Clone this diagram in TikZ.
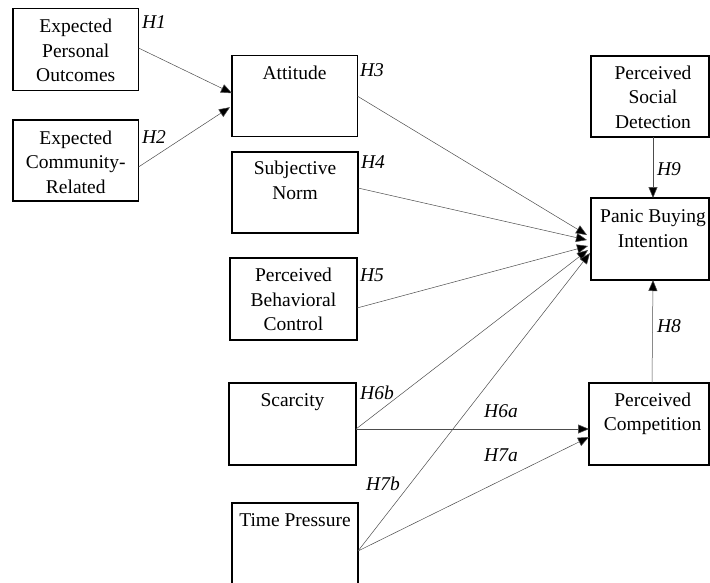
\documentclass[tikz,border=0pt]{standalone}
\usepackage{fontspec}
\setmainfont{Liberation Serif}
\usetikzlibrary{arrows.meta,calc}
\begin{document}
\begin{tikzpicture}[x=1pt,y=-1pt,
  box/.style={draw=black,line width=1.1pt,inner sep=0pt,outer sep=0pt,rectangle},
  txt/.style={inner sep=0pt,align=center,font=\fontsize{19.5}{24.5}\selectfont},
  hyp/.style={inner sep=0pt,font=\fontsize{19.5}{24}\selectfont\itshape},
  link/.style={draw=black!70,line width=0.5pt,-{Triangle[length=11pt,width=9pt,fill=black]}}]
\clip (0,0) rectangle (710,582);
\useasboundingbox (0,0) rectangle (710,582);
% boxes
\node[box,minimum width=125.5pt,minimum height=82pt] (eo) at (75.75,49.5) {};
\node[box,minimum width=125.5pt,minimum height=81pt] (ec) at (75.75,160.5) {};
\node[box,minimum width=125.5pt,minimum height=81pt] (att) at (294.75,96.2) {};
\node[box,minimum width=126pt,minimum height=81pt] (sn) at (295,192.5) {};
\node[box,minimum width=127pt,minimum height=82pt] (pbc) at (293.5,299) {};
\node[box,minimum width=127pt,minimum height=82pt] (sc) at (292.5,424) {};
\node[box,minimum width=126pt,minimum height=100pt] (tp) at (295,553) {};
\node[box,minimum width=118pt,minimum height=81pt] (psd) at (650,96.5) {};
\node[box,minimum width=118pt,minimum height=82pt] (pbi) at (650,239) {};
\node[box,minimum width=120pt,minimum height=82pt] (pc) at (649,424) {};
% texts
\node[txt] (teo) at (75.75,50.4) {Expected\\Personal\\Outcomes};
\node[txt] (tec) at (75.75,162) {Expected\\Community-\\Related};
\node[txt,anchor=base] (tatt) at (294.5,79.3) {Attitude};
\node[txt] (tsn) at (295,180.4) {Subjective\\Norm};
\node[txt] (tpbc) at (293.5,299.4) {Perceived\\Behavioral\\Control};
\node[txt,anchor=base] (tsc) at (292.5,406) {Scarcity};
\node[txt,anchor=base] (ttp) at (295,526) {Time Pressure};
\node[txt] (tpsd) at (653,96.9) {Perceived\\Social\\Detection};
\node[txt] (tpbi) at (653,228.4) {Panic Buying\\Intention};
\node[txt] (tpc) at (652.7,414) {Perceived\\Competition};
% hypothesis labels
\node[hyp] (h1) at (154,22) {H1};
\node[hyp] (h2) at (154,137) {H2};
\node[hyp] (h3) at (372,70) {H3};
\node[hyp] (h4) at (373,162) {H4};
\node[hyp] (h5) at (372,275) {H5};
\node[hyp] (h6b) at (377,393) {H6b};
\node[hyp] (h6a) at (501,411) {H6a};
\node[hyp] (h7a) at (501,455) {H7a};
\node[hyp] (h7b) at (383,484) {H7b};
\node[hyp] (h9) at (669,169) {H9};
\node[hyp] (h8) at (669,326) {H8};
% connectors
\draw[link] ([yshift=1.5pt]eo.east) -- ([yshift=3pt]att.west);
\draw[link] ([yshift=-6.5pt]ec.east) -- ([xshift=-2pt,yshift=-11pt]att.west);
\draw[link] (att.east) -- ([xshift=-4pt,yshift=4pt]pbi.west);
\draw[link] ([yshift=4.5pt]sn.east) -- ([xshift=-4pt,yshift=-1pt]pbi.west);
\draw[link] ([yshift=-9pt]pbc.east) -- ([xshift=-3pt,yshift=-7pt]pbi.west);
\draw[link] ([yshift=-5pt]sc.east) -- ([xshift=-3pt,yshift=-11pt]pbi.west);
\draw[link] ([yshift=2pt]tp.east) -- ([xshift=-1pt,yshift=-14pt]pbi.west);
\draw[link] ([yshift=-5pt]sc.east) -- ([yshift=-5pt]pc.west);
\draw[link] ([yshift=2pt]tp.east) -- ([yshift=-13pt]pc.west);
\draw[link] ([xshift=3pt]pc.north) -- ([xshift=3pt]pbi.south);
\draw[link] ([xshift=3pt]psd.south) -- ([xshift=3pt]pbi.north);
\end{tikzpicture}
\end{document}
